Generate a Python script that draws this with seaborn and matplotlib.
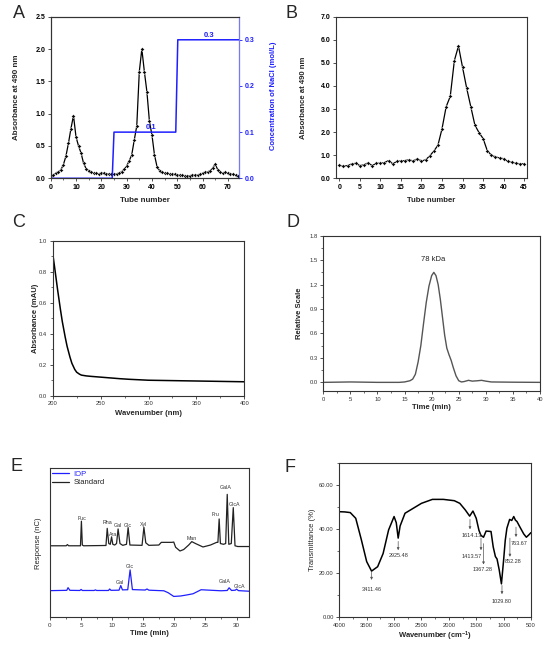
import numpy as np
import pandas as pd
import matplotlib
matplotlib.use("Agg")
import matplotlib.pyplot as plt
from matplotlib.ticker import MultipleLocator, FormatStrFormatter
from matplotlib.lines import Line2D
import seaborn as sns

# ---------------- data ----------------
# Panel A: DEAE elution (tube number vs absorbance), NaCl gradient
tubes_a = list(range(0, 75))
abs_a = [0.03, 0.05, 0.08, 0.10, 0.13, 0.21, 0.34, 0.54, 0.77, 0.97,
         0.64, 0.50, 0.39, 0.23, 0.15, 0.12, 0.10, 0.08, 0.08, 0.07,
         0.08, 0.08, 0.07, 0.07, 0.06, 0.06, 0.07, 0.08, 0.10, 0.14,
         0.19, 0.27, 0.36, 0.59, 0.81, 1.65, 2.00, 1.65, 1.34, 0.88,
         0.67, 0.36, 0.18, 0.12, 0.09, 0.08, 0.08, 0.07, 0.07, 0.06,
         0.05, 0.05, 0.05, 0.04, 0.04, 0.04, 0.05, 0.05, 0.05, 0.06,
         0.08, 0.09, 0.10, 0.12, 0.16, 0.22, 0.13, 0.09, 0.08, 0.09,
         0.08, 0.07, 0.06, 0.05, 0.04]
nacl_x = [0, 24.3, 25.0, 49.4, 50.2, 75]
nacl_y = [0.0, 0.0, 0.1, 0.1, 0.3, 0.3]

# Panel B: gel filtration
tubes_b = list(range(0, 46))
abs_b = [0.57, 0.52, 0.55, 0.62, 0.65, 0.55, 0.58, 0.67, 0.55, 0.65,
         0.65, 0.68, 0.77, 0.63, 0.73, 0.75, 0.77, 0.80, 0.75, 0.85,
         0.75, 0.80, 0.97, 1.18, 1.43, 2.15, 3.10, 3.55, 5.10, 5.73,
         4.80, 3.90, 3.10, 2.30, 1.98, 1.72, 1.20, 1.00, 0.93, 0.88,
         0.85, 0.73, 0.70, 0.65, 0.63, 0.63]

# Panel C: UV spectrum
wl_c = [200, 202, 205, 208, 210, 213, 215, 218, 220, 223, 225, 228, 230,
        235, 240, 250, 260, 270, 280, 290, 300, 320, 340, 360, 380, 400]
uv_c = [0.92, 0.83, 0.69, 0.56, 0.48, 0.38, 0.32, 0.25, 0.21, 0.17, 0.152,
        0.139, 0.133, 0.128, 0.125, 0.12, 0.115, 0.11, 0.106, 0.103, 0.10,
        0.098, 0.096, 0.094, 0.092, 0.09]

# Panel D: HPGPC
t_d = [0, 5, 10, 14, 15, 16, 16.5, 17, 17.5, 18, 18.5, 19, 19.5, 20, 20.4,
       20.8, 21.2, 21.6, 22, 22.4, 22.8, 23.2, 23.6, 24, 24.5, 25, 25.5, 26,
       26.8, 27.5, 28.5, 29.2, 30, 31, 35, 40]
rs_d = [0, 0.005, 0, 0, 0.005, 0.02, 0.04, 0.10, 0.25, 0.45, 0.72, 0.98,
        1.18, 1.31, 1.35, 1.31, 1.20, 1.02, 0.80, 0.58, 0.42, 0.34, 0.27,
        0.18, 0.08, 0.02, 0.005, 0.01, 0.025, 0.015, 0.02, 0.025, 0.015,
        0.005, 0.002, 0]
mw_label = "78 kDa"

# Panel E: monosaccharide composition (HPAEC)
t_std = [0, 2.6, 2.8, 3.0, 4.9, 5.05, 5.2, 5.4, 9.0, 9.2, 9.45, 9.7, 9.9,
         10.1, 10.4, 10.7, 10.95, 11.25, 11.7, 12.3, 12.56, 12.85, 14.8,
         15.1, 15.4, 15.9, 17.5, 17.9, 19.6, 19.9, 20.2, 20.9, 21.5, 22.3,
         22.8, 23.4, 24.6, 25.8, 26.8, 27.0, 27.2, 27.4, 27.9, 28.25, 28.5,
         28.75, 29.15, 29.47, 29.75, 30.2, 32]
y_std = [48, 48, 48.8, 48, 48, 64.5, 48.5, 48, 48.2, 59.7, 49.5, 49, 54,
         49, 48.5, 49.5, 59.3, 49.5, 48.3, 49, 60.2, 48.5, 48.3, 60.4, 50,
         48.3, 48.5, 50.3, 50.3, 50.5, 47, 44.5, 45.5, 48.5, 50.8, 49.5,
         47.2, 48.5, 50.3, 50.3, 66, 49.5, 49, 49.5, 82.5, 49, 49.5, 73.6,
         48, 47.5, 47.5]
t_iop = [0, 2.7, 2.9, 3.2, 4.8, 5.0, 5.2, 7.1, 7.3, 7.5, 9.4, 9.6, 9.8,
         11.1, 11.38, 11.65, 12.5, 12.88, 13.25, 15.3, 15.6, 15.9, 18.3,
         19.0, 19.9, 21.0, 22.0, 23.0, 24.3, 25.2, 27.5, 28.5, 28.8, 29.2,
         29.8, 30.0, 30.3, 32]
y_iop = [17.9, 18.1, 19.9, 18.1, 18.0, 18.7, 18.0, 18.0, 18.4, 18.0, 18.0,
         19.0, 18.1, 18.2, 21.3, 18.4, 18.5, 31.8, 18.6, 18.3, 19.0, 18.2,
         17.8, 16.5, 14.0, 14.3, 15.0, 15.8, 18.5, 18.3, 17.8, 18.0, 19.8,
         18.0, 18.2, 18.9, 17.9, 17.5]
std_names = ["Fuc", "Rha", "Ara", "Gal", "Glc", "Xyl", "Man", "Fru", "GalA", "GlcA"]
std_lab_t = [5.1, 9.2, 10.2, 10.9, 12.5, 15.0, 22.8, 26.7, 28.3, 29.7]
std_lab_y = [66.4, 63.8, 55.3, 61.3, 61.3, 62.4, 53.0, 68.7, 87.0, 75.4]
iop_names = ["Gal", "Glc", "GalA", "GlcA"]
iop_lab_t = [11.3, 12.9, 28.1, 30.4]
iop_lab_y = [23.5, 34.0, 24.0, 20.6]

# Panel F: FT-IR
wn_f = [4000, 3900, 3800, 3700, 3600, 3500, 3411, 3300, 3200, 3100, 3000,
        2960, 2925, 2890, 2800, 2700, 2500, 2300, 2100, 1900, 1800, 1700,
        1620, 1560, 1500, 1450, 1413, 1367, 1320, 1230, 1190, 1150, 1120,
        1080, 1040, 1000, 970, 940, 890, 852, 815, 785, 755, 706, 633, 585,
        542, 500]
tr_f = [48.0, 47.9, 47.6, 45.0, 35.5, 25.3, 21.0, 23.0, 29.0, 39.7, 45.8,
        43.0, 36.0, 41.5, 47.3, 48.8, 51.8, 53.6, 53.6, 53.0, 51.8, 48.8,
        46.0, 48.3, 45.0, 39.5, 37.2, 36.4, 39.2, 39.0, 32.0, 27.6, 26.5,
        21.5, 15.2, 26.0, 35.0, 40.5, 44.5, 44.0, 45.8, 44.2, 43.5, 41.2,
        37.9, 36.4, 37.4, 38.5]
ir_labels = ["3411.46", "2925.48", "1614.13", "1413.57", "1367.28", "1029.80", "852.28", "763.67"]
ir_arrow_x = [3411, 2925, 1614, 1413, 1367, 1030, 885, 774]
ir_arrow_y0 = [20.5, 34.5, 44.5, 36.0, 33.5, 14.5, 36.0, 41.0]
ir_arrow_y1 = [17.0, 30.5, 40.0, 30.5, 24.0, 10.5, 27.5, 36.5]
ir_text_x = [3411, 2925, 1590, 1590, 1390, 1030, 823, 725]
ir_text_y = [12.5, 28.0, 37.0, 27.7, 21.8, 7.2, 25.3, 33.6]

# ---------------- style ----------------
sns.set_theme(style="ticks")
plt.rcParams["font.family"] = ["Liberation Sans", "DejaVu Sans"]
plt.rcParams["axes.linewidth"] = 0.8
plt.rcParams["axes.edgecolor"] = "#333333"
plt.rcParams["mathtext.default"] = "regular"

W, H = 550, 646
fig = plt.figure(figsize=(W / 100, H / 100), dpi=100)


def box(l, r, t, b):
    return [l / W, 1 - b / H, (r - l) / W, (b - t) / H]


def style_ticks(ax, size, bold=False, color="black"):
    ax.tick_params(axis="both", which="major", length=2.5, width=0.6,
                   labelsize=size, pad=1.5, direction="out", colors="#333333",
                   labelcolor=color)
    ax.tick_params(axis="both", which="minor", length=1.5, width=0.5,
                   direction="out", colors="#333333")
    if bold:
        for lab in ax.get_xticklabels() + ax.get_yticklabels():
            lab.set_fontweight("bold")


BLUE = "#1f1fff"

# ---------------- Panel A ----------------
axA = fig.add_axes(box(50.7, 239.3, 16.7, 178.3))
sns.lineplot(x=tubes_a, y=abs_a, ax=axA, color="black", linewidth=0.9,
             marker="D", markersize=2.0, markeredgewidth=0.3)
axA.set_xlim(0, 74.5)
axA.set_ylim(0, 2.5)
axA.xaxis.set_major_locator(MultipleLocator(10))
axA.xaxis.set_minor_locator(MultipleLocator(5))
axA.yaxis.set_major_locator(MultipleLocator(0.5))
axA.yaxis.set_major_formatter(FormatStrFormatter("%.1f"))
style_ticks(axA, 5, bold=True)
axA.set_xlabel("Tube number", fontsize=5.8, fontweight="bold", va="center")
axA.set_ylabel("Absorbance at 490 nm", fontsize=5.8, fontweight="bold", va="center")
axA.xaxis.set_label_coords(0.5, -0.14)
axA.yaxis.set_label_coords(-0.179, 0.5)
axA2 = axA.twinx()
sns.lineplot(x=nacl_x, y=nacl_y, ax=axA2, color=BLUE, linewidth=1.1)
axA2.set_ylim(0, 0.35)
axA2.yaxis.set_major_locator(MultipleLocator(0.1))
axA2.yaxis.set_major_formatter(FormatStrFormatter("%.1f"))
axA2.tick_params(axis="y", length=2.5, width=0.6, labelsize=5, pad=1.5,
                 colors=BLUE, labelcolor=BLUE, direction="out")
for lab in axA2.get_yticklabels():
    lab.set_fontweight("bold")
axA2.spines["right"].set_color("#7777ff")
axA2.spines["right"].set_linewidth(0.8)
axA2.set_ylabel("Concentration of NaCl (mol/L)", fontsize=5.5,
                fontweight="bold", color=BLUE, va="center")
axA2.yaxis.set_label_coords(1.179, 0.51)
axA2.text(39.5, 0.102, "0.1", color=BLUE, fontsize=5.5, fontweight="bold",
          ha="center", va="bottom")
axA2.text(62.5, 0.302, "0.3", color=BLUE, fontsize=5.5, fontweight="bold",
          ha="center", va="bottom")

# ---------------- Panel B ----------------
axB = fig.add_axes(box(336, 526.7, 16.7, 178.3))
sns.lineplot(x=tubes_b, y=abs_b, ax=axB, color="black", linewidth=0.9,
             marker="D", markersize=2.0, markeredgewidth=0.3)
axB.set_xlim(-0.8, 45.6)
axB.set_ylim(0, 7)
axB.xaxis.set_major_locator(MultipleLocator(5))
axB.yaxis.set_major_locator(MultipleLocator(1))
axB.yaxis.set_major_formatter(FormatStrFormatter("%.1f"))
style_ticks(axB, 5, bold=True)
axB.set_xlabel("Tube number", fontsize=5.6, fontweight="bold", va="center")
axB.set_ylabel("Absorbance at 490 nm", fontsize=5.6, fontweight="bold", va="center")
axB.xaxis.set_label_coords(0.5, -0.14)
axB.yaxis.set_label_coords(-0.170, 0.5)

# ---------------- Panel C ----------------
axC = fig.add_axes(box(52.7, 244.3, 241, 395.7))
sns.lineplot(x=wl_c, y=uv_c, ax=axC, color="black", linewidth=1.1)
axC.set_xlim(200, 400)
axC.set_ylim(0, 1.0)
axC.xaxis.set_major_locator(MultipleLocator(50))
axC.xaxis.set_minor_locator(MultipleLocator(25))
axC.yaxis.set_major_locator(MultipleLocator(0.2))
axC.yaxis.set_minor_locator(MultipleLocator(0.1))
axC.yaxis.set_major_formatter(FormatStrFormatter("%.1f"))
style_ticks(axC, 4.2, color="#333333")
axC.set_xlabel("Wavenumber (nm)", fontsize=5.5, fontweight="bold", va="center")
axC.set_ylabel("Absorbance (mAU)", fontsize=5.5, fontweight="bold", va="center")
axC.xaxis.set_label_coords(0.5, -0.112)
axC.yaxis.set_label_coords(-0.092, 0.5)

# ---------------- Panel D ----------------
axD = fig.add_axes(box(323.3, 540, 235.7, 391))
sns.lineplot(x=t_d, y=rs_d, ax=axD, color="#555555", linewidth=1.0)
axD.set_xlim(0, 40)
axD.set_ylim(-0.106, 1.8)
axD.xaxis.set_major_locator(MultipleLocator(5))
axD.xaxis.set_minor_locator(MultipleLocator(2.5))
axD.yaxis.set_major_locator(MultipleLocator(0.3))
axD.yaxis.set_minor_locator(MultipleLocator(0.15))
axD.yaxis.set_major_formatter(FormatStrFormatter("%.1f"))
style_ticks(axD, 4.2, color="#333333")
axD.text(20.3, 1.46, mw_label, fontsize=5.5, ha="center", va="bottom", color="#222222")
axD.set_xlabel("Time (min)", fontsize=5.5, fontweight="bold", va="center")
axD.set_ylabel("Relative Scale", fontsize=5.5, fontweight="bold", va="center")
axD.xaxis.set_label_coords(0.5, -0.109)
axD.yaxis.set_label_coords(-0.110, 0.5)

# ---------------- Panel E ----------------
axE = fig.add_axes(box(50, 249, 468.3, 617.3))
sns.lineplot(x=t_std, y=y_std, ax=axE, color="#222222", linewidth=0.9)
sns.lineplot(x=t_iop, y=y_iop, ax=axE, color=BLUE, linewidth=0.9)
axE.set_xlim(0, 32)
axE.set_ylim(0, 100)
axE.set_yticks([])
axE.xaxis.set_major_locator(MultipleLocator(5))
axE.xaxis.set_minor_locator(MultipleLocator(2.5))
style_ticks(axE, 4.5, color="#333333")
for n, tx, ty in zip(std_names, std_lab_t, std_lab_y):
    axE.text(tx, ty, n, fontsize=3.8, ha="center", va="center", color="#333333")
for n, tx, ty in zip(iop_names, iop_lab_t, iop_lab_y):
    axE.text(tx, ty, n, fontsize=3.8, ha="center", va="center", color="#333333")
handles = [Line2D([], [], color=BLUE, linewidth=0.9),
           Line2D([], [], color="#222222", linewidth=0.9)]
leg = axE.legend(handles, ["IOP", "Standard"], loc="upper left", frameon=False,
                 fontsize=5.5, handlelength=2.3, handletextpad=0.5,
                 borderaxespad=0.15, labelspacing=0.2, borderpad=0.1)
leg.get_texts()[0].set_color(BLUE)
leg.get_texts()[1].set_color("#222222")
axE.set_xlabel("Time (min)", fontsize=5.5, fontweight="bold", va="center")
axE.set_ylabel("Response (nC)", fontsize=5.5, va="center")
axE.xaxis.set_label_coords(0.5, -0.112)
axE.yaxis.set_label_coords(-0.058, 0.5)

# ---------------- Panel F ----------------
axF = fig.add_axes(box(339.3, 531, 463.3, 617.3))
sns.lineplot(x=wn_f, y=tr_f, ax=axF, color="black", linewidth=1.1)
axF.set_xlim(4000, 500)
axF.set_ylim(0, 70)
axF.xaxis.set_major_locator(MultipleLocator(500))
axF.yaxis.set_major_locator(MultipleLocator(20))
axF.yaxis.set_minor_locator(MultipleLocator(10))
axF.xaxis.set_minor_locator(MultipleLocator(250))
axF.yaxis.set_major_formatter(FormatStrFormatter("%.2f"))
style_ticks(axF, 4.2, color="#333333")
for lab, ax_, y0, y1, tx, ty in zip(ir_labels, ir_arrow_x, ir_arrow_y0,
                                     ir_arrow_y1, ir_text_x, ir_text_y):
    axF.annotate("", xy=(ax_, y1), xytext=(ax_, y0),
                 arrowprops=dict(arrowstyle="-|>", color="#555555", lw=0.5,
                                 mutation_scale=3.5, shrinkA=0, shrinkB=0))
    axF.text(tx, ty, lab, fontsize=4.0, ha="center", va="center", color="#333333")
axF.set_xlabel("Wavenumber (cm$^{-1}$)", fontsize=5.5, fontweight="bold", va="center")
axF.set_ylabel("Transmittance (%)", fontsize=5.5, va="center")
axF.xaxis.set_label_coords(0.5, -0.125)
axF.yaxis.set_label_coords(-0.142, 0.5)

# ---------------- panel letters ----------------
for letter, x, y in [("A", 18.5, 13.5), ("B", 291.5, 13.5), ("C", 18.5, 222.5),
                     ("D", 293.5, 222.5), ("E", 16.5, 466.5), ("F", 290.5, 467.5)]:
    fig.text(x / W, 1 - y / H, letter, fontsize=13, ha="center", va="center")

fig.savefig("out.png", dpi=100)
